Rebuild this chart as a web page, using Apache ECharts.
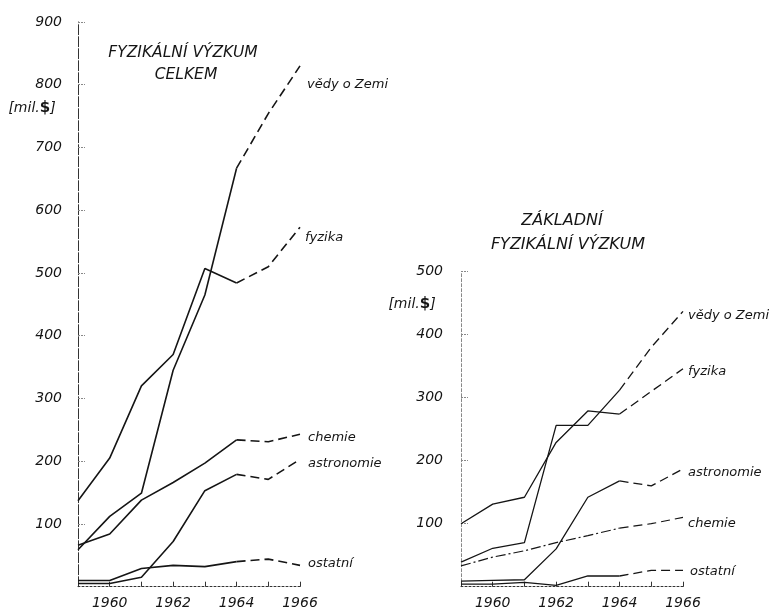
<!DOCTYPE html>
<html>
<head>
<meta charset="utf-8">
<script src="https://cdn.jsdelivr.net/npm/echarts@6/dist/echarts.min.js"></script>
<style>
html,body{margin:0;padding:0;background:#fff;}
#c{width:771px;height:612px;}
</style>
</head>
<body>
<div id="c"></div>
<script>
// categories
const years = ['1959','1960','1961','1962','1963','1964','1965','1966'];
// left chart: FYZIKÁLNÍ VÝZKUM CELKEM [mil. $]
const celkemVedy       = [59, 112, 149, 345, 465, 667, 754, 830];
const celkemFyzika     = [137, 205, 320, 370, 507, 484, 510, 573];
const celkemChemie     = [66, 84, 138, 166, 197, 234, 231, 243];
const celkemAstronomie = [5, 5, 15, 72, 153, 179, 171, 203];
const celkemOstatni    = [10, 10, 29, 34, 32, 40, 44, 34];
// right chart: ZÁKLADNÍ FYZIKÁLNÍ VÝZKUM [mil. $]
const zakladniVedy       = [39, 61, 70, 256, 256, 312, 380, 437];
const zakladniFyzika     = [100, 131, 142, 229, 279, 274, 310, 346];
const zakladniAstronomie = [9, 10, 11, 60, 142, 168, 160, 187];
const zakladniChemie     = [33, 47, 57, 70, 81, 93, 100, 110];
const zakladniOstatni    = [4, 4, 7, 2, 17, 17, 26, 26];
// tick labels
const leftTicks = [100, 200, 300, 400, 500, 600, 700, 800, 900];
const rightTicks = [100, 200, 300, 400, 500];
// index where the dashed (estimated) part begins
const splitIdx = 5;

const FONT = 'DejaVu Sans';
const INK = '#151515';

function buildSeries(name, data, axisIdx, width, solidType, offset) {
  const solid = data.map((v, i) => i <= splitIdx ? v : null);
  const dashed = data.map((v, i) => i >= splitIdx ? v : null);
  return [
    {
      type: 'line', name: name, xAxisIndex: axisIdx, yAxisIndex: axisIdx,
      data: solid, showSymbol: false, symbol: 'none', silent: true,
      lineStyle: { color: INK, width: width, type: solidType }
    },
    {
      type: 'line', name: name, xAxisIndex: axisIdx, yAxisIndex: axisIdx,
      data: dashed, showSymbol: false, symbol: 'none', silent: true,
      lineStyle: { color: INK, width: width, type: [9, 5] },
      endLabel: {
        show: true, formatter: name, distance: 0, offset: offset,
        color: INK, fontFamily: FONT, fontStyle: 'italic', fontSize: 13
      }
    }
  ];
}

const series = [].concat(
  buildSeries('vědy o Zemi', celkemVedy, 0, 1.6, 'solid', [7, 19]),
  buildSeries('fyzika', celkemFyzika, 0, 1.6, 'solid', [5, 10]),
  buildSeries('chemie', celkemChemie, 0, 1.6, 'solid', [8, 3]),
  buildSeries('astronomie', celkemAstronomie, 0, 1.6, 'solid', [8, 4]),
  buildSeries('ostatní', celkemOstatni, 0, 1.6, 'solid', [8, -2]),
  buildSeries('vědy o Zemi', zakladniVedy, 1, 1.3, 'solid', [5, 4]),
  buildSeries('fyzika', zakladniFyzika, 1, 1.3, 'solid', [5, 3]),
  buildSeries('astronomie', zakladniAstronomie, 1, 1.3, 'solid', [5, 4]),
  buildSeries('chemie', zakladniChemie, 1, 1.2, [10, 3, 2, 3], [5, 6]),
  buildSeries('ostatní', zakladniOstatni, 1, 1.3, 'solid', [7, 1])
);

function xAxis(gridIndex) {
  return {
    type: 'category', gridIndex: gridIndex, data: years, boundaryGap: false,
    axisLine: { show: true, lineStyle: { color: '#333', width: 1, type: [2, 2] } },
    axisTick: { show: true, inside: true, length: 5, interval: 0, lineStyle: { color: '#333' } },
    axisLabel: {
      interval: function (idx) { return idx % 2 === 1; },
      margin: 10, color: INK, fontFamily: FONT, fontStyle: 'italic', fontSize: 14
    },
    splitLine: { show: false }
  };
}
function yAxis(gridIndex, max, ticks, margin, color, dash) {
  return {
    type: 'value', gridIndex: gridIndex, min: 0, max: max,
    axisLine: { show: true, lineStyle: { color: color, width: 1, type: dash } },
    axisTick: { show: true, inside: true, length: 7, customValues: ticks, lineStyle: { color: '#888', type: [2, 1] } },
    axisLabel: {
      customValues: ticks, margin: margin, color: INK,
      fontFamily: FONT, fontStyle: 'italic', fontSize: 14
    },
    splitLine: { show: false }
  };
}

function txt(text, x, y, size) {
  return {
    type: 'text', x: x, y: y, silent: true,
    style: {
      text: text, fill: INK, font: 'italic ' + size + 'px "' + FONT + '"',
      textAlign: 'center', textVerticalAlign: 'middle'
    }
  };
}
function unit(x, y) {
  return {
    type: 'text', x: x, y: y, silent: true,
    style: {
      text: '[mil.{b|$}]', fill: INK, font: 'italic 14px "' + FONT + '"',
      textAlign: 'center', textVerticalAlign: 'middle',
      rich: { b: { fontWeight: 'bold', fontSize: 15, fontFamily: FONT, fill: INK } }
    }
  };
}

const chart = echarts.init(document.getElementById('c'), null, { renderer: 'canvas' });
chart.setOption({
  backgroundColor: '#fff',
  animation: false,
  grid: [
    { left: 78, top: 22, width: 222, height: 564.7 },
    { left: 461, top: 271.7, width: 222, height: 315 }
  ],
  xAxis: [xAxis(0), xAxis(1)],
  yAxis: [
    yAxis(0, 900, leftTicks, 16, '#333', [10, 2]),
    yAxis(1, 500, rightTicks, 18, '#888', [3, 2])
  ],
  series: series,
  graphic: [
    txt('FYZIKÁLNÍ VÝZKUM', 183, 53, 15.5),
    txt('CELKEM', 186, 75, 15.5),
    txt('ZÁKLADNÍ', 562, 221, 16),
    txt('FYZIKÁLNÍ VÝZKUM', 568, 245, 16),
    unit(32, 108),
    unit(412, 304)
  ]
});
</script>
</body>
</html>
